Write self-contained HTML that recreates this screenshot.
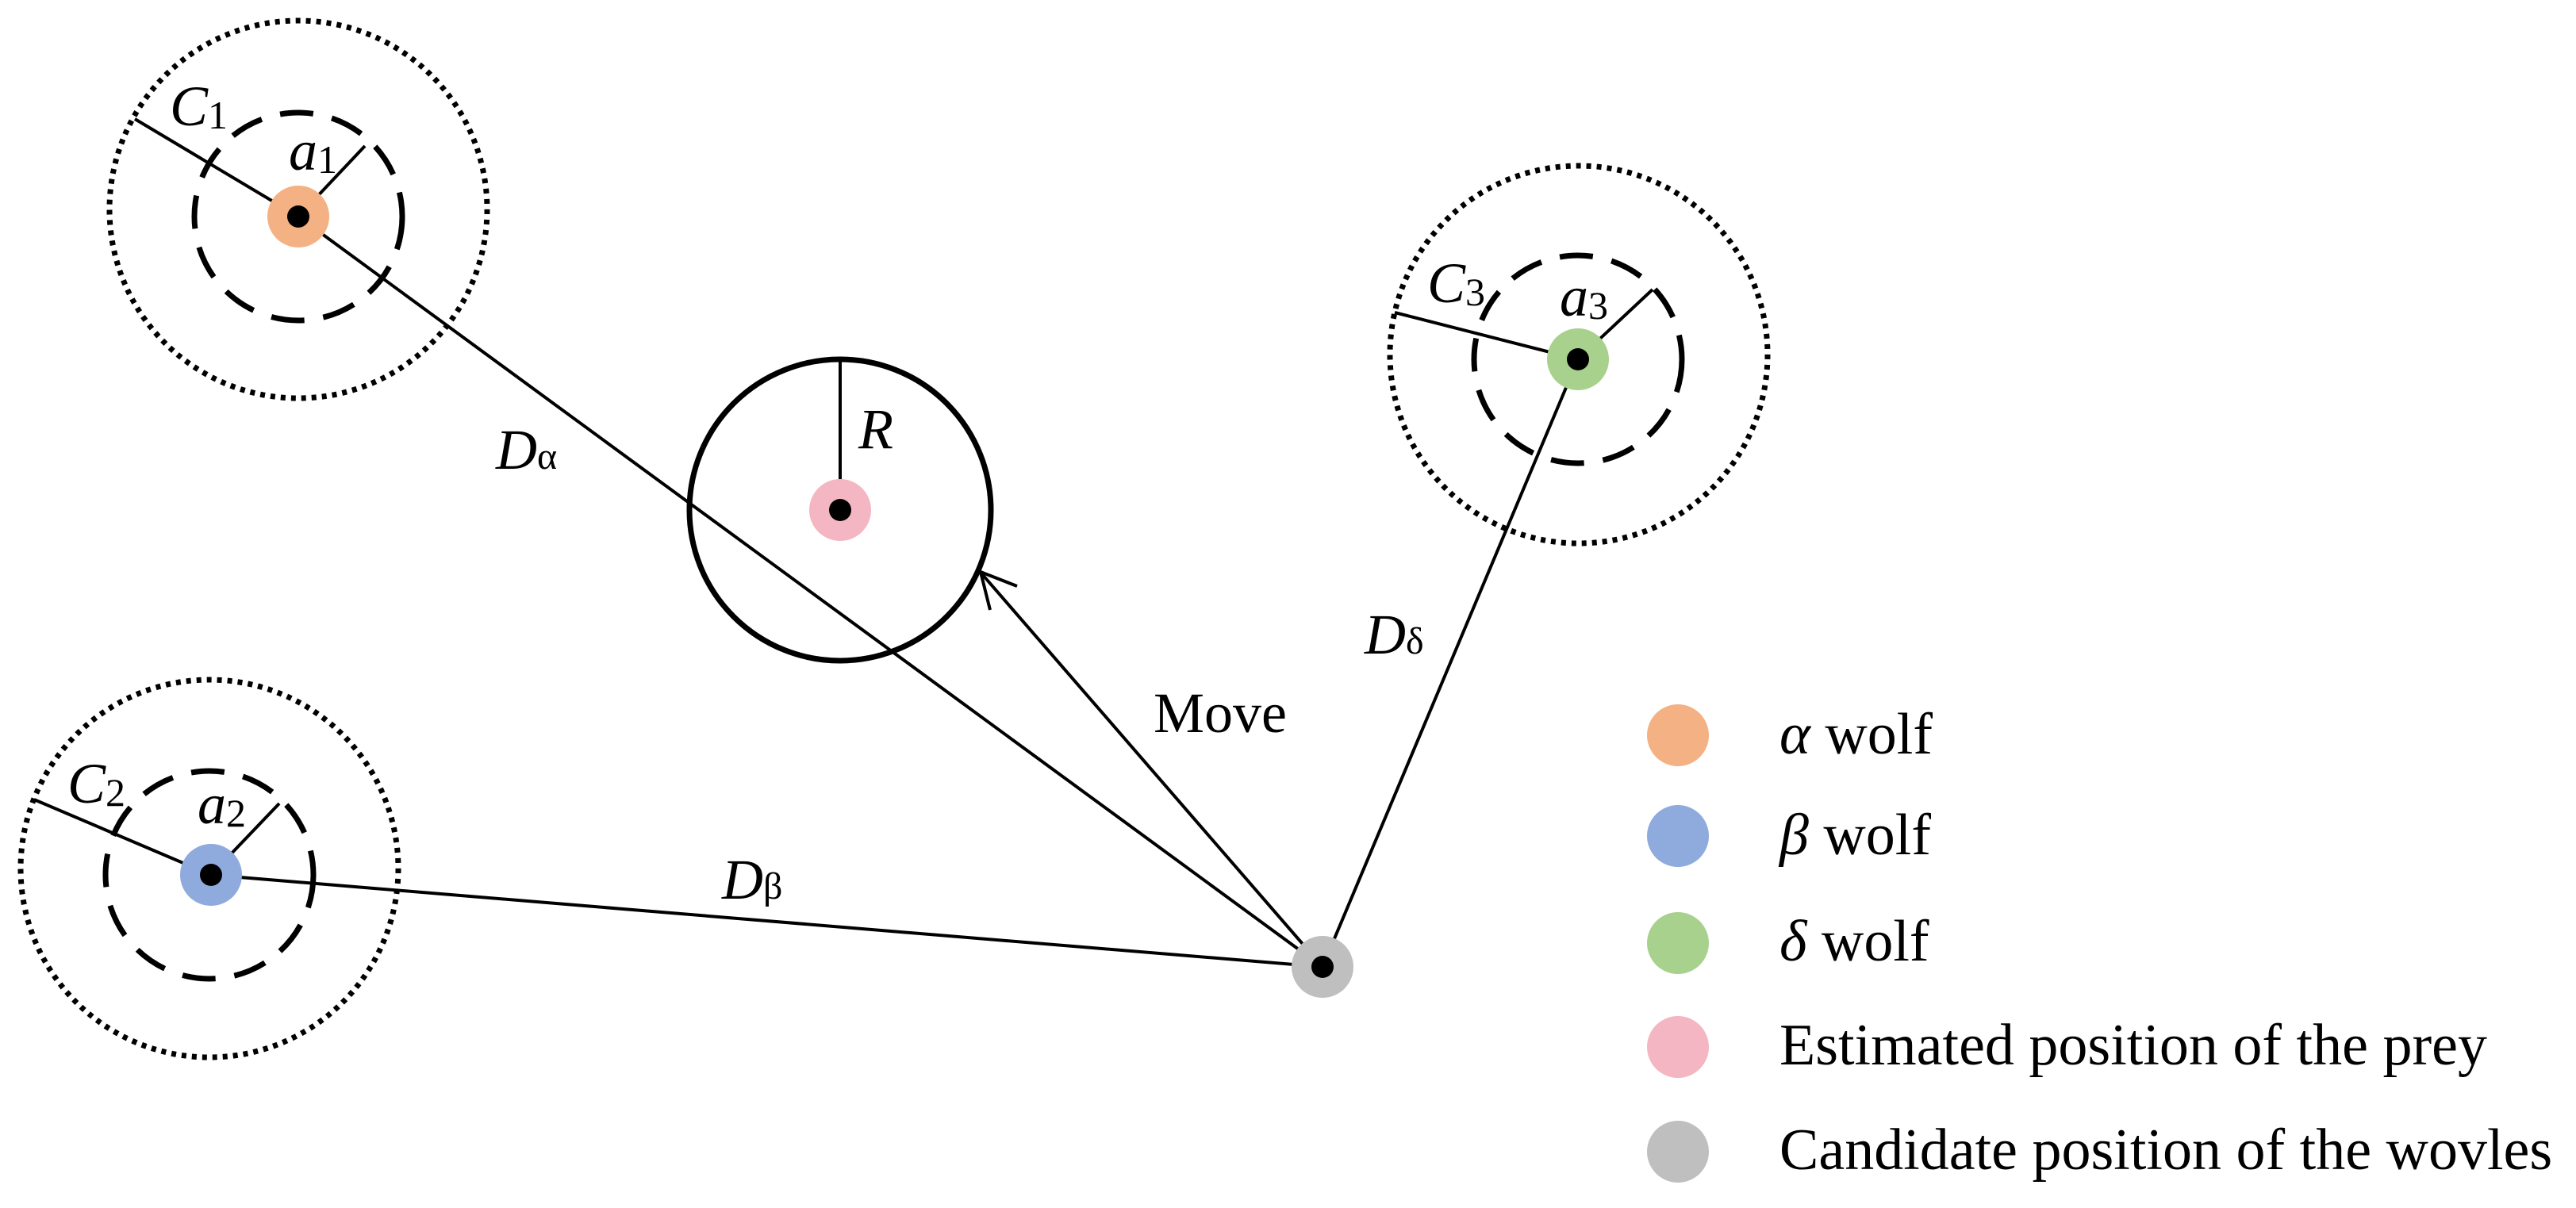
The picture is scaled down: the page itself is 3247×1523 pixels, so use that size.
<!DOCTYPE html>
<html><head><meta charset="utf-8"><style>
html,body{margin:0;padding:0;background:#fff;}
svg{display:block;}
text{font-family:"Liberation Serif",serif;fill:#000;}
</style></head><body>
<svg width="3247" height="1523" viewBox="0 0 3247 1523" xmlns="http://www.w3.org/2000/svg">
<!-- connectors -->
<g stroke="#000" stroke-width="4" fill="none">
<line x1="376" y1="273" x2="1667" y2="1219"/>
<line x1="266" y1="1103" x2="1667" y2="1219"/>
<line x1="1989" y1="453" x2="1667" y2="1219"/>
<line x1="1667" y1="1219" x2="1238" y2="724"/>
<polyline points="1282,739 1236,721 1248,769" stroke-width="4"/>
<!-- radius lines -->
<line x1="376" y1="273" x2="170" y2="150"/>
<line x1="376" y1="273" x2="460" y2="184"/>
<line x1="266" y1="1103" x2="43" y2="1008"/>
<line x1="266" y1="1103" x2="352" y2="1013"/>
<line x1="1989" y1="453" x2="1758" y2="394"/>
<line x1="1989" y1="453" x2="2083" y2="365"/>
<line x1="1059" y1="453" x2="1059" y2="643"/>
</g>
<!-- dotted outer circles -->
<g stroke="#000" stroke-width="7" fill="none" stroke-dasharray="6 7">
<circle cx="376" cy="264" r="238"/>
<circle cx="264" cy="1095" r="238"/>
<circle cx="1990" cy="447" r="238"/>
</g>
<!-- dashed inner circles -->
<g stroke="#000" stroke-width="7" fill="none" stroke-dasharray="42 24">
<circle cx="376" cy="273" r="131"/>
<circle cx="264" cy="1103" r="131"/>
<circle cx="1989" cy="453" r="131"/>
</g>
<!-- prey circle -->
<circle cx="1059" cy="643" r="190" stroke="#000" stroke-width="7" fill="none"/>
<!-- nodes -->
<circle cx="376" cy="273" r="39" fill="#f4b183"/>
<circle cx="266" cy="1103" r="39" fill="#8faadc"/>
<circle cx="1989" cy="453" r="39" fill="#a9d18e"/>
<circle cx="1059" cy="643" r="39" fill="#f4b6c2"/>
<circle cx="1667" cy="1219" r="39" fill="#bfbfbf"/>
<g fill="#000">
<circle cx="376" cy="273" r="14"/>
<circle cx="266" cy="1103" r="14"/>
<circle cx="1989" cy="453" r="14"/>
<circle cx="1059" cy="643" r="14"/>
<circle cx="1667" cy="1219" r="14"/>
</g>
<!-- labels -->
<g font-size="72">
<text x="214" y="158" font-style="italic">C<tspan font-style="normal" font-size="50" dy="4">1</tspan></text>
<text x="364" y="214" font-style="italic">a<tspan font-style="normal" font-size="50" dy="4">1</tspan></text>
<text x="85" y="1012" font-style="italic">C<tspan font-style="normal" font-size="50" dy="4">2</tspan></text>
<text x="249" y="1038" font-style="italic">a<tspan font-style="normal" font-size="50" dy="4">2</tspan></text>
<text x="1799" y="381" font-style="italic">C<tspan font-style="normal" font-size="50" dy="4">3</tspan></text>
<text x="1966" y="398" font-style="italic">a<tspan font-style="normal" font-size="50" dy="4">3</tspan></text>
<text x="1082" y="565" font-style="italic">R</text>
<text x="625" y="591" font-style="italic">D<tspan font-style="normal" font-size="48">α</tspan></text>
<text x="910" y="1133" font-style="italic">D<tspan font-style="normal" font-size="48">β</tspan></text>
<text x="1720" y="824" font-style="italic">D<tspan font-style="normal" font-size="48">δ</tspan></text>
<text x="1454" y="923">Move</text>
</g>
<!-- legend -->
<g>
<circle cx="2115" cy="927" r="39" fill="#f4b183"/>
<circle cx="2115" cy="1054" r="39" fill="#8faadc"/>
<circle cx="2115" cy="1189" r="39" fill="#a9d18e"/>
<circle cx="2115" cy="1320" r="39" fill="#f4b6c2"/>
<circle cx="2115" cy="1452" r="39" fill="#bfbfbf"/>
</g>
<g font-size="74">
<text x="2243" y="950"><tspan font-style="italic">α</tspan> wolf</text>
<text x="2243" y="1077"><tspan font-style="italic">β</tspan> wolf</text>
<text x="2243" y="1211"><tspan font-style="italic">δ</tspan> wolf</text>
<text x="2243" y="1342">Estimated position of the prey</text>
<text x="2243" y="1474">Candidate position of the wovles</text>
</g>
</svg>
</body></html>
